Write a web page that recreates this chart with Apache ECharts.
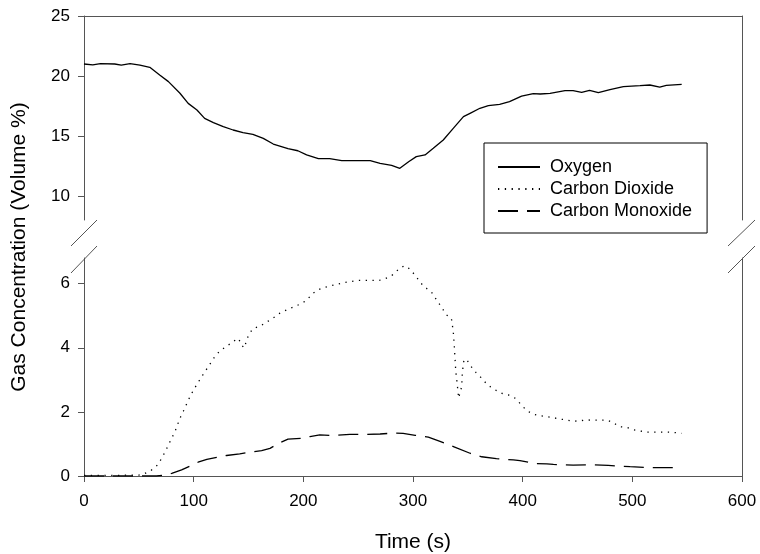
<!DOCTYPE html>
<html><head><meta charset="utf-8">
<script src="https://cdn.jsdelivr.net/npm/echarts@6/dist/echarts.min.js"></script>
<style>html,body{margin:0;padding:0;background:#fff}#c{width:760px;height:554px}</style>
</head><body><div id="c"></div>
<script>
const o2Time = [0,8,15,28,34,42,51,60,69,77,87.5,95,103,110,118,127,136,145,154,163.5,172.6,186,195,203,213.7,224,235,261,270,280.5,288,296,303,311,318.5,327.6,336.7,346,352,361,368.7,379,388,399,409.7,416,425,438.6,446,453.8,461,469,479.6,491.8,507,516,525,531,545];
const o2Vals = [21.0,20.92,21.03,21.0,20.9,21.03,20.9,20.72,20.08,19.53,18.56,17.72,17.17,16.47,16.11,15.78,15.5,15.28,15.14,14.8,14.33,13.94,13.77,13.42,13.11,13.11,12.94,12.94,12.72,12.56,12.31,12.86,13.28,13.42,13.97,14.67,15.64,16.61,16.89,17.31,17.53,17.64,17.86,18.33,18.53,18.5,18.56,18.78,18.78,18.64,18.81,18.61,18.86,19.11,19.19,19.25,19.08,19.22,19.31];

const co2Time = [0,10,20,30,40,50,55.6,61,67,70.8,74,77,80,83,87.5,90.6,93.6,96.7,99.7,103,107,111,115,119,124,130,136,141,143.5,146.5,148,150.5,154,160.5,166,172.6,178.7,184.8,190.9,197,203,208,213.7,220,226,232,238,244,250,256,262,269,275,280.5,286.6,292,297,302.7,307,312.5,318,322,326.4,330,335,336.7,337.6,338.3,339,340.4,341.6,344.4,345,346.5,349,352.9,357.4,362.6,368,374.8,381,387,393,398,403.6,409.7,415.8,422,428,433.5,439.5,445.6,451.7,457.7,464.4,470.5,476,482,488,494.8,500.9,506.4,513,519,525,531,537,545];
const co2Vals = [0.02,0.02,0.02,0.02,0.03,0.03,0.08,0.17,0.34,0.55,0.76,0.97,1.18,1.39,1.8,2.02,2.25,2.48,2.67,2.86,3.08,3.29,3.5,3.71,3.91,4.04,4.2,4.29,4.08,4.0,4.23,4.42,4.6,4.67,4.79,4.93,5.08,5.18,5.27,5.36,5.48,5.68,5.81,5.89,5.94,5.99,6.04,6.07,6.1,6.1,6.1,6.1,6.16,6.25,6.44,6.56,6.46,6.23,6.02,5.85,5.69,5.46,5.25,5.04,4.92,4.51,4.09,3.68,3.26,2.84,2.43,2.79,3.23,3.63,3.63,3.42,3.23,3.05,2.84,2.69,2.58,2.53,2.43,2.25,2.04,1.93,1.88,1.85,1.82,1.78,1.75,1.71,1.72,1.75,1.74,1.74,1.75,1.68,1.54,1.52,1.44,1.41,1.37,1.37,1.37,1.37,1.36,1.33];

const coTime = [0,20,40,60,66,72,80,89,96.7,104,112,121,130,142,151,162,169.6,178.7,186,200,206,215,227,242.5,257.8,270,282,291,302,314,324.6,338,352,362.6,376,391.5,397.5,406.7,410,422,428,446,461,478,498,516,534,545];
const coVals = [0,0,0,0,0,0.02,0.08,0.19,0.31,0.43,0.52,0.58,0.64,0.69,0.74,0.79,0.86,1.04,1.15,1.18,1.23,1.28,1.26,1.3,1.3,1.31,1.34,1.33,1.27,1.21,1.08,0.9,0.71,0.6,0.54,0.5,0.48,0.42,0.39,0.38,0.36,0.34,0.35,0.33,0.29,0.26,0.26,0.26];

const xTicks = [0,100,200,300,400,500,600];
const upperTicks = [10,15,20,25];
const lowerTicks = [0,2,4,6];
const seriesNames = ['Oxygen','Carbon Dioxide','Carbon Monoxide'];

const zip = (a,b) => a.map((t,i)=>[t,b[i]]);
const axisColor = '#555';
const FONT = 'Liberation Sans, Arial, sans-serif';

const chart = echarts.init(document.getElementById('c'), null, {renderer:'canvas'});

function leftY(grid, min, max, ticks){
  return {type:'value', gridIndex:grid, position:'left', min:min, max:max,
    axisLine:{show:true, onZero:false, lineStyle:{color:axisColor, width:1}},
    axisTick:{show:true, inside:false, length:6, customValues:ticks, lineStyle:{color:axisColor}},
    axisLabel:{show:true, customValues:ticks, margin:14, fontSize:17, color:'#000', fontFamily:FONT},
    splitLine:{show:false}};
}
function rightY(grid, min, max){
  return {type:'value', gridIndex:grid, position:'right', min:min, max:max,
    axisLine:{show:true, onZero:false, lineStyle:{color:axisColor, width:1}},
    axisTick:{show:false}, axisLabel:{show:false}, splitLine:{show:false}};
}

const option = {
  animation:false,
  backgroundColor:'#fff',
  textStyle:{fontFamily:FONT},
  grid:[
    {left:84, right:18, top:16, height:204, containLabel:false, outerBoundsMode:'none'},
    {left:84, right:18, top:258, height:218, containLabel:false, outerBoundsMode:'none'}
  ],
  xAxis:[
    {type:'value', gridIndex:0, position:'top', min:0, max:600, interval:100,
     axisLine:{show:true, onZero:false, lineStyle:{color:axisColor, width:1}},
     axisTick:{show:false}, axisLabel:{show:false}, splitLine:{show:false}},
    {type:'value', gridIndex:1, position:'bottom', min:0, max:600, interval:100,
     axisLine:{show:true, onZero:false, lineStyle:{color:axisColor, width:1}},
     axisTick:{show:true, inside:false, length:6, lineStyle:{color:axisColor}},
     axisLabel:{show:true, margin:17, fontSize:17, color:'#000', fontFamily:FONT,
       formatter:(v)=> xTicks.indexOf(v) >= 0 ? String(v) : ''},
     splitLine:{show:false},
     name:'Time (s)', nameLocation:'middle', nameGap:56,
     nameTextStyle:{fontSize:21, color:'#000', fontFamily:FONT}}
  ],
  yAxis:[
    leftY(0, 8, 25, upperTicks),
    rightY(0, 8, 25),
    leftY(1, 0, 6.8, lowerTicks),
    rightY(1, 0, 6.8)
  ],
  legend:{
    show:true, orient:'vertical', left:484, top:143,
    padding:[15,15,13,13], itemWidth:42, itemHeight:14, itemGap:4,
    borderColor:'#000', borderWidth:1, backgroundColor:'#fff',
    itemStyle:{opacity:0, color:'rgba(0,0,0,0)', borderWidth:0},
    textStyle:{fontSize:18, color:'#000', fontFamily:FONT, padding:[0,0,0,5]},
    data:seriesNames, selectedMode:false
  },
  series:[
    {name:seriesNames[0], type:'line', xAxisIndex:0, yAxisIndex:0, data:zip(o2Time,o2Vals),
     symbol:'none', lineStyle:{color:'#000', width:1.3, type:'solid'}, itemStyle:{color:'#000'}},
    {name:seriesNames[1], type:'line', xAxisIndex:1, yAxisIndex:2, data:zip(co2Time,co2Vals),
     symbol:'none', lineStyle:{color:'#000', width:1.3, type:[1.3,5.5]}, itemStyle:{color:'#000'}},
    {name:seriesNames[2], type:'line', xAxisIndex:1, yAxisIndex:2, data:zip(coTime,coVals),
     symbol:'none', lineStyle:{color:'#000', width:1.3, type:[20,9]}, itemStyle:{color:'#000'}}
  ],
  graphic:[
    {type:'text', rotation:Math.PI/2, x:19.5, y:247,
     style:{text:'Gas Concentration (Volume %)', fontSize:21, fill:'#000', fontFamily:FONT, align:'center', verticalAlign:'middle'}},
    {type:'line', shape:{x1:71,y1:246,x2:97,y2:220}, style:{stroke:axisColor, lineWidth:1}},
    {type:'line', shape:{x1:71,y1:273,x2:97,y2:246}, style:{stroke:axisColor, lineWidth:1}},
    {type:'line', shape:{x1:728,y1:246,x2:755,y2:220}, style:{stroke:axisColor, lineWidth:1}},
    {type:'line', shape:{x1:728,y1:273,x2:755,y2:246}, style:{stroke:axisColor, lineWidth:1}}
  ]
};
chart.setOption(option);
</script></body></html>
